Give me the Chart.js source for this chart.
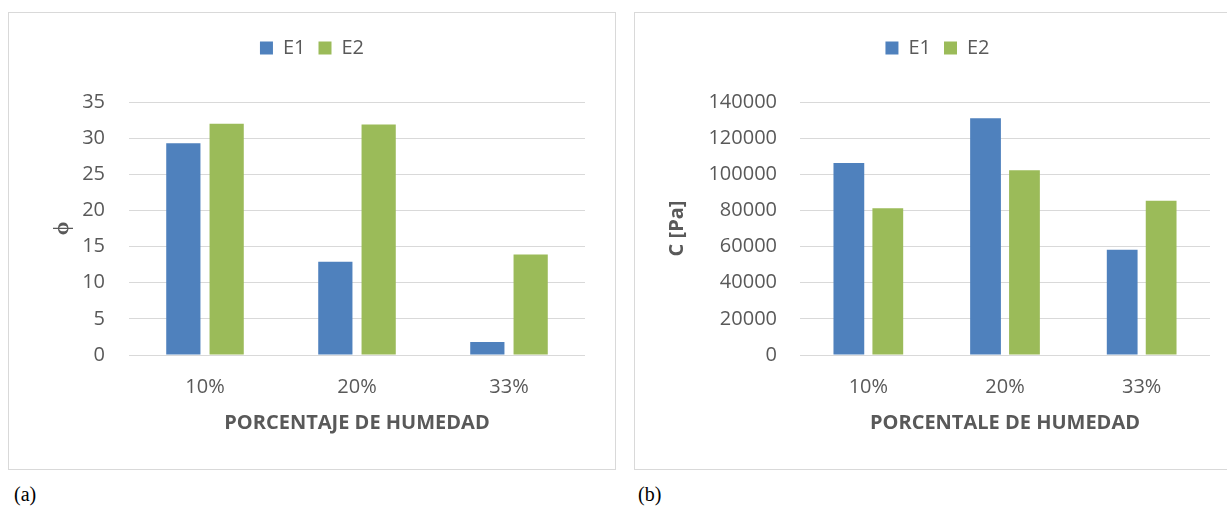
<!DOCTYPE html>
<html>
<head>
<meta charset="utf-8">
<script src="https://cdn.jsdelivr.net/npm/chart.js@4"></script>
<style>
  body { margin: 0; background: #fff; overflow: hidden; width: 1227px; height: 506px; position: relative; }
  .box { position: absolute; top: 12px; border: 1px solid #d9d9d9; background: #fff; }
  .cap { position: absolute; top: 483px; font: 20px "Liberation Serif", serif; color: #000; }
</style>
</head>
<body>
<div class="box" style="left:8px;width:606px;height:456px"><canvas id="chartA" width="606" height="456"></canvas></div>
<div class="box" style="left:634px;width:605px;height:456px"><canvas id="chartB" width="605" height="456"></canvas></div>
<div class="cap" style="left:14px">(a)</div>
<div class="cap" style="left:638px">(b)</div>
<script>
// humidity categories
const categories = ['10%', '20%', '33%'];

// friction angle (a)
const phiE1 = [29.3, 12.9, 1.8];
const phiE2 = [32.0, 31.9, 13.9];

// cohesion in Pa (b)
const cohE1 = [106200, 131000, 58200];
const cohE2 = [81200, 102300, 85300];

const seriesNames = ['E1', 'E2'];
const colors = ['#4F81BD', '#9BBB59'];
const textGray = '#595959';
const font = 'Open Sans';

// legend needs some room below it before the plot starts
const legendGap = {
    id: 'legendGap',
    beforeInit(chart) {
        const fit = chart.legend.fit;
        chart.legend.fit = function () {
            fit.bind(chart.legend)();
            this.height += 34;
        };
    }
};

function barChart(canvasEl, valsE1, valsE2, opts) {
    return new Chart(canvasEl, {
        type: 'bar',
        data: {
            labels: categories,
            datasets: [
                { label: seriesNames[0], data: valsE1, backgroundColor: colors[0] },
                { label: seriesNames[1], data: valsE2, backgroundColor: colors[1] }
            ]
        },
        options: {
            animation: false,
            responsive: false,
            categoryPercentage: 0.57,
            barPercentage: 0.79,
            layout: { padding: { left: 0, right: 0, top: 12, bottom: 34 } },
            scales: {
                x: {
                    grid: { display: false, drawTicks: false },
                    border: { display: false },
                    ticks: { color: textGray, padding: 20, font: { family: font, size: 20 } },
                    title: {
                        display: true,
                        text: opts.xTitle,
                        color: textGray,
                        font: { family: font, size: 20, weight: 'bold' },
                        padding: { top: 0, bottom: 0 }
                    },
                    afterFit: s => { s.height = 80; }
                },
                y: {
                    min: 0,
                    max: opts.max,
                    grid: { color: '#d9d9d9', lineWidth: 1, drawTicks: false },
                    border: { display: false },
                    ticks: {
                        stepSize: opts.step,
                        color: textGray,
                        padding: opts.tickPad,
                        font: { family: font, size: 20 },
                        callback: v => String(v)
                    },
                    title: {
                        display: true,
                        text: opts.yTitle,
                        color: textGray,
                        font: { family: font, size: opts.yTitleSize, weight: 'bold' },
                        padding: { top: opts.titlePad, bottom: 0 }
                    },
                    afterFit: s => { s.width = opts.yWidth; }
                },
                // empty axis on the right, only keeps a margin after the plot
                yR: {
                    type: 'linear',
                    position: 'right',
                    grid: { display: false },
                    border: { display: false },
                    ticks: { display: false },
                    afterFit: s => { s.width = 30; }
                }
            },
            plugins: {
                legend: {
                    position: 'top',
                    labels: {
                        color: textGray,
                        boxWidth: 13,
                        boxHeight: 13,
                        padding: 13,
                        font: { family: font, size: 20 }
                    }
                },
                tooltip: { enabled: false }
            }
        },
        plugins: [legendGap]
    });
}

barChart(document.getElementById('chartA'), phiE1, phiE2, {
    max: 35, step: 5, yTitle: 'ϕ', yTitleSize: 22, xTitle: 'PORCENTAJE DE HUMEDAD',
    yWidth: 120, tickPad: 24, titlePad: 40
});

barChart(document.getElementById('chartB'), cohE1, cohE2, {
    max: 140000, step: 20000, yTitle: 'C [Pa]', yTitleSize: 20, xTitle: 'PORCENTALE DE HUMEDAD',
    yWidth: 165, tickPad: 23, titlePad: 30
});
</script>
</body>
</html>
